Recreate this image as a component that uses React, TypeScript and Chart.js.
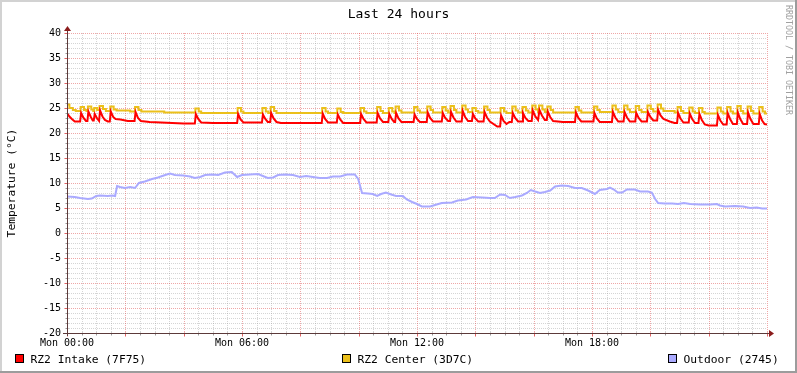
import React, { useEffect, useRef } from "react";
import { Chart, registerables } from "chart.js";
Chart.register(...registerables);

const FONT = "'DejaVu Sans Mono', monospace";
const chartTitle = "Last 24 hours";
const yAxisTitle = "Temperature (°C)";
const watermark = "RRDTOOL / TOBI OETIKER";
const seriesNames = ["RZ2 Intake (7F75)", "RZ2 Center (3D7C)", "Outdoor (2745)"];
const seriesColors = ["#FF0000", "#EBC01B", "#AAAAFF"];
const xTickMinutes = [0, 360, 720, 1080];
const xTickLabels = ["Mon 00:00", "Mon 06:00", "Mon 12:00", "Mon 18:00"];
const yMin = -20;
const yMax = 40;
const yStep = 5;

// [minute of day, °C]
const intake: [number, number][] = [
  [0, 24.0], [5, 23.3], [10, 22.8], [16, 22.3],
  [27, 22.3], [29, 24.0], [34, 23.0], [39, 22.4],
  [42, 22.4], [44, 24.3], [49, 23.2], [53, 22.5],
  [55, 22.5], [57, 23.8], [62, 22.9], [66, 22.4],
  [68, 24.5], [73, 23.3], [78, 22.6], [84, 22.3],
  [88, 22.3], [90, 24.3], [95, 23.2], [100, 22.8], [110, 22.7], [125, 22.4],
  [139, 22.4], [141, 24.2], [146, 23.0], [152, 22.4], [170, 22.2], [240, 21.9],
  [263, 21.9], [265, 23.8], [270, 22.8], [276, 22.1], [300, 22.0],
  [350, 22.0], [352, 23.8], [357, 22.7], [363, 22.1],
  [401, 22.1], [403, 23.7], [408, 22.8], [413, 22.2],
  [418, 22.2], [420, 24.0], [425, 22.9], [431, 22.2], [440, 22.0],
  [524, 22.0], [526, 23.9], [531, 22.8], [537, 22.1],
  [555, 22.1], [557, 23.7], [562, 22.7], [568, 22.0],
  [603, 22.0], [605, 23.8], [610, 22.8], [616, 22.1],
  [637, 22.1], [639, 24.0], [644, 22.9], [650, 22.2],
  [661, 22.2], [663, 23.8], [668, 22.8], [673, 22.2],
  [675, 22.2], [677, 24.0], [682, 22.9], [688, 22.2],
  [713, 22.2], [715, 23.7], [720, 22.8], [726, 22.2],
  [740, 22.2], [742, 24.1], [747, 23.0], [753, 22.3],
  [771, 22.3], [773, 24.0], [778, 23.0], [784, 22.4],
  [788, 22.4], [790, 24.2], [795, 23.1], [801, 22.3],
  [812, 22.3], [814, 24.4], [819, 23.2], [825, 22.4],
  [833, 22.4], [835, 23.8], [840, 22.9], [846, 22.3],
  [857, 22.3], [859, 24.2], [864, 23.1], [870, 22.3], [885, 21.3],
  [891, 21.3], [893, 23.5], [898, 22.4], [904, 21.8], [910, 22.2],
  [915, 22.2], [917, 24.0], [922, 23.0], [928, 22.3],
  [936, 22.3], [938, 24.0], [943, 23.0], [949, 22.4],
  [956, 22.4], [958, 24.5], [963, 23.4], [969, 22.6],
  [970, 22.6], [972, 24.6], [977, 23.5], [983, 22.6],
  [987, 22.6], [989, 24.3], [994, 23.2], [1000, 22.4], [1020, 22.2],
  [1045, 22.2], [1047, 24.1], [1052, 23.0], [1058, 22.3],
  [1083, 22.3], [1085, 24.0], [1090, 22.9], [1096, 22.2],
  [1121, 22.2], [1123, 24.2], [1128, 23.1], [1134, 22.3],
  [1145, 22.3], [1147, 24.2], [1152, 23.1], [1158, 22.3],
  [1169, 22.3], [1171, 24.0], [1176, 23.0], [1182, 22.3],
  [1193, 22.3], [1195, 24.2], [1200, 23.2], [1206, 22.5],
  [1214, 22.5], [1216, 24.6], [1221, 23.5], [1227, 22.8], [1240, 22.3], [1250, 22.0],
  [1255, 22.0], [1257, 24.0], [1262, 22.9], [1268, 22.1],
  [1279, 22.1], [1281, 23.9], [1286, 22.8], [1292, 22.0],
  [1299, 22.0], [1301, 23.8], [1306, 22.6], [1312, 21.7], [1320, 21.5],
  [1337, 21.5], [1339, 23.6], [1344, 22.5], [1350, 21.7],
  [1357, 21.7], [1359, 24.0], [1364, 22.8], [1370, 21.8],
  [1378, 21.8], [1380, 24.1], [1385, 22.8], [1391, 21.8],
  [1399, 21.8], [1401, 24.1], [1406, 22.8], [1412, 21.8],
  [1423, 21.8], [1425, 23.8], [1430, 22.5], [1435, 21.8], [1440, 21.7],
];

const center: [number, number][] = [
  [0, 25.7], [5, 25.0], [12, 24.6], [18, 24.4],
  [28, 25.2], [35, 24.6], [40, 24.4],
  [43, 25.3], [50, 24.7], [54, 24.4],
  [56, 25.0], [62, 24.6],
  [67, 25.4], [74, 24.8], [80, 24.4],
  [89, 25.3], [96, 24.7], [102, 24.5], [130, 24.3],
  [140, 25.2], [147, 24.6], [153, 24.3], [200, 24.1],
  [264, 24.9], [271, 24.3], [276, 24.0],
  [351, 25.0], [358, 24.3], [363, 24.0],
  [402, 25.0], [409, 24.3], [414, 24.0],
  [419, 25.2], [426, 24.4], [431, 24.0],
  [525, 25.0], [532, 24.3], [537, 24.0],
  [556, 24.9], [563, 24.2], [568, 24.0],
  [604, 25.0], [611, 24.3], [616, 24.0],
  [638, 25.2], [645, 24.4], [650, 24.0],
  [662, 25.0], [669, 24.3], [674, 24.0],
  [676, 25.3], [683, 24.5], [688, 24.1],
  [714, 25.2], [721, 24.5], [726, 24.1],
  [741, 25.3], [748, 24.6], [753, 24.1],
  [772, 25.2], [779, 24.5], [784, 24.1],
  [789, 25.4], [796, 24.6], [801, 24.1],
  [813, 25.5], [820, 24.7], [825, 24.2],
  [834, 25.0], [841, 24.4], [846, 24.1],
  [858, 25.3], [865, 24.6], [870, 24.1],
  [892, 25.0], [899, 24.3], [904, 24.0],
  [916, 25.3], [923, 24.5], [928, 24.1],
  [937, 25.2], [944, 24.5], [949, 24.1],
  [957, 25.5], [964, 24.7], [969, 24.2],
  [971, 25.5], [978, 24.7], [983, 24.2],
  [988, 25.3], [995, 24.6], [1000, 24.1],
  [1046, 25.2], [1053, 24.5], [1058, 24.1],
  [1084, 25.3], [1091, 24.6], [1096, 24.2],
  [1122, 25.5], [1129, 24.7], [1134, 24.2],
  [1146, 25.5], [1153, 24.7], [1158, 24.2],
  [1170, 25.4], [1177, 24.6], [1182, 24.2],
  [1194, 25.5], [1201, 24.8], [1206, 24.3],
  [1215, 25.7], [1222, 24.9], [1227, 24.4], [1250, 24.1],
  [1256, 25.2], [1263, 24.4], [1268, 24.0],
  [1280, 25.1], [1287, 24.3], [1292, 24.0],
  [1300, 25.0], [1307, 24.2], [1312, 23.9],
  [1338, 25.1], [1345, 24.3], [1350, 23.9],
  [1358, 25.2], [1365, 24.3], [1370, 23.9],
  [1379, 25.4], [1386, 24.4], [1391, 23.9],
  [1400, 25.3], [1407, 24.4], [1412, 23.9],
  [1424, 25.2], [1431, 24.3], [1436, 23.9], [1440, 23.9],
];

const outdoor: [number, number][] = [
  [0, 7.3], [16, 7.2], [27, 7.0], [43, 6.8], [51, 6.9], [60, 7.4], [68, 7.5],
  [84, 7.4], [93, 7.5], [99, 7.4], [103, 9.4], [109, 9.2], [119, 9.0], [130, 9.2],
  [140, 9.0], [148, 10.0], [160, 10.3], [175, 10.8], [187, 11.1], [202, 11.6],
  [212, 11.9], [222, 11.6], [239, 11.5], [253, 11.3], [263, 11.0], [274, 11.2],
  [284, 11.6], [298, 11.7], [311, 11.6], [325, 12.1], [339, 12.2], [350, 11.2],
  [360, 11.6], [376, 11.7], [393, 11.8], [403, 11.4], [413, 11.0], [424, 11.1],
  [434, 11.6], [448, 11.7], [465, 11.6], [479, 11.2], [492, 11.4], [506, 11.2],
  [520, 11.0], [535, 11.0], [547, 11.3], [562, 11.3], [576, 11.7], [592, 11.7],
  [599, 10.8], [607, 8.0], [619, 7.9], [629, 7.8], [638, 7.4], [646, 7.8],
  [656, 8.1], [667, 7.7], [677, 7.4], [691, 7.4], [699, 6.7], [710, 6.2],
  [720, 5.8], [730, 5.3], [747, 5.3], [757, 5.6], [771, 6.0], [792, 6.1],
  [804, 6.5], [821, 6.7], [835, 7.2], [854, 7.1], [870, 7.0], [880, 7.0],
  [891, 7.7], [901, 7.6], [911, 7.0], [922, 7.2], [936, 7.5], [946, 8.0],
  [954, 8.6], [963, 8.3], [973, 8.0], [983, 8.2], [994, 8.5], [1004, 9.3],
  [1018, 9.5], [1031, 9.4], [1045, 9.0], [1059, 9.0], [1072, 8.5], [1086, 7.8],
  [1096, 8.6], [1111, 8.8], [1117, 9.1], [1125, 8.7], [1133, 8.1], [1142, 8.1],
  [1152, 8.7], [1168, 8.7], [1179, 8.3], [1195, 8.3], [1203, 8.1], [1210, 6.8],
  [1216, 6.0], [1230, 5.9], [1245, 5.9], [1257, 5.8], [1269, 6.0], [1282, 5.8],
  [1302, 5.7], [1323, 5.7], [1337, 5.8], [1343, 5.5], [1354, 5.3], [1374, 5.4],
  [1391, 5.3], [1405, 5.0], [1419, 5.1], [1430, 4.9], [1440, 4.9],
];

const GRID_MINOR = "rgba(150,150,150,0.4)";
const GRID_MAJOR = "rgba(220,60,60,0.45)";
const AXIS = "#5c3a3a";
const ARROW = "#8b1c1c";

const rrdPlugin = {
  id: "rrd",
  beforeDraw(chart: any) {
    const { ctx, width, height } = chart;
    ctx.save();
    ctx.fillStyle = "#ffffff";
    ctx.fillRect(0, 0, width, height);
    ctx.fillStyle = "#d2d2d2";
    ctx.fillRect(0, 0, width, 2);
    ctx.fillRect(0, 0, 2, height);
    ctx.fillStyle = "#9c9c9c";
    ctx.fillRect(0, height - 2, width, 2);
    ctx.fillRect(width - 2, 0, 2, height);
    ctx.restore();
  },
  beforeDatasetsDraw(chart: any) {
    const { ctx, chartArea: a } = chart;
    const xs = chart.scales.x;
    const ys = chart.scales.y;
    ctx.save();
    ctx.lineWidth = 1;
    ctx.setLineDash([1, 1]);
    const pass = (major: boolean) => {
      ctx.strokeStyle = major ? GRID_MAJOR : GRID_MINOR;
      ctx.beginPath();
      for (let m = xs.min + 30; m <= xs.max; m += 30) {
        if ((m % 120 === 0) !== major) continue;
        const px = Math.round(xs.getPixelForValue(m)) + 0.5;
        ctx.moveTo(px, a.top);
        ctx.lineTo(px, a.bottom);
      }
      for (let v = ys.min + 1; v <= ys.max; v += 1) {
        if ((v % 5 === 0) !== major) continue;
        const py = Math.round(ys.getPixelForValue(v)) + 0.5;
        ctx.moveTo(a.left, py);
        ctx.lineTo(a.right, py);
      }
      ctx.stroke();
    };
    pass(false);
    pass(true);
    ctx.restore();
  },
  afterDatasetsDraw(chart: any) {
    const { ctx, chartArea: a } = chart;
    const xs = chart.scales.x;
    const ys = chart.scales.y;
    const bx = Math.round(a.left) + 0.5;
    const by = Math.round(a.bottom) + 0.5;
    ctx.save();
    ctx.setLineDash([]);
    ctx.lineWidth = 1;
    for (let m = xs.min; m <= xs.max; m += 30) {
      const px = Math.round(xs.getPixelForValue(m)) + 0.5;
      const major = m % 120 === 0;
      ctx.strokeStyle = major ? "rgba(220,60,60,0.8)" : "rgba(130,130,130,0.8)";
      ctx.beginPath();
      ctx.moveTo(px, by - 1);
      ctx.lineTo(px, by + (major ? 3 : 2));
      ctx.stroke();
    }
    for (let v = ys.min; v <= ys.max; v += 1) {
      const py = Math.round(ys.getPixelForValue(v)) + 0.5;
      const major = v % 5 === 0;
      ctx.strokeStyle = major ? "rgba(220,60,60,0.8)" : "rgba(130,130,130,0.8)";
      ctx.beginPath();
      ctx.moveTo(bx - (major ? 3 : 2), py);
      ctx.lineTo(bx + 1, py);
      ctx.stroke();
    }
    ctx.strokeStyle = AXIS;
    ctx.beginPath();
    ctx.moveTo(a.left - 4, by);
    ctx.lineTo(a.right + 4, by);
    ctx.moveTo(bx, a.bottom + 3);
    ctx.lineTo(bx, a.top - 4);
    ctx.stroke();
    ctx.fillStyle = ARROW;
    ctx.beginPath();
    ctx.moveTo(a.right + 7, by);
    ctx.lineTo(a.right + 2, by - 3.5);
    ctx.lineTo(a.right + 2, by + 3.5);
    ctx.closePath();
    ctx.fill();
    ctx.beginPath();
    ctx.moveTo(bx, a.top - 7);
    ctx.lineTo(bx - 3.5, a.top - 2);
    ctx.lineTo(bx + 3.5, a.top - 2);
    ctx.closePath();
    ctx.fill();
    ctx.restore();
  },
  afterDraw(chart: any) {
    const { ctx, chartArea: a, width } = chart;
    ctx.save();
    ctx.fillStyle = "#000";
    ctx.textAlign = "center";
    ctx.textBaseline = "alphabetic";
    ctx.font = `13px ${FONT}`;
    ctx.fillText(chartTitle, width / 2, 18);

    ctx.save();
    ctx.font = `11.3px ${FONT}`;
    ctx.translate(12, (a.top + a.bottom) / 2);
    ctx.rotate(-Math.PI / 2);
    ctx.textBaseline = "middle";
    ctx.fillText(yAxisTitle, 0, 0);
    ctx.restore();

    ctx.save();
    ctx.font = `8.3px ${FONT}`;
    ctx.fillStyle = "#a0a0a0";
    ctx.translate(788.5, 60);
    ctx.rotate(Math.PI / 2);
    ctx.textBaseline = "middle";
    ctx.fillText(watermark, 0, 0);
    ctx.restore();

    const boxX = [15, 342, 668];
    ctx.font = `11.3px ${FONT}`;
    ctx.textAlign = "left";
    seriesNames.forEach((name, i) => {
      ctx.fillStyle = seriesColors[i];
      ctx.fillRect(boxX[i], 354, 9, 9);
      ctx.strokeStyle = "#000";
      ctx.lineWidth = 1;
      ctx.strokeRect(boxX[i] + 0.5, 354.5, 8, 8);
      ctx.fillStyle = "#000";
      ctx.fillText(name, boxX[i] + 15.5, 363);
    });
    ctx.restore();
  },
};

const toXY = (pts: [number, number][]) => pts.map(([x, y]) => ({ x, y }));

export default function App() {
  const ref = useRef<HTMLCanvasElement | null>(null);
  useEffect(() => {
    document.body.style.margin = "0";
    const canvas = ref.current!;
    const chart = new Chart(canvas, {
      type: "line",
      data: {
        datasets: [
          { label: seriesNames[0], data: toXY(intake), borderColor: seriesColors[0], stepped: false },
          { label: seriesNames[1], data: toXY(center), borderColor: seriesColors[1], stepped: "before" },
          { label: seriesNames[2], data: toXY(outdoor), borderColor: seriesColors[2], stepped: false },
        ].map((d) => ({
          ...d,
          borderWidth: 2,
          pointRadius: 0,
          fill: false,
          tension: 0,
          borderJoinStyle: "miter",
          borderCapStyle: "butt",
        })) as any,
      },
      options: {
        animation: false,
        responsive: false,
        events: [],
        layout: { padding: { left: 0, right: 30, top: 33, bottom: 0 } },
        plugins: { legend: { display: false }, tooltip: { enabled: false }, title: { display: false } },
        scales: {
          x: {
            type: "linear",
            min: 0,
            max: 1440,
            grid: { display: false, drawTicks: false },
            border: { display: false },
            afterBuildTicks: (s: any) => {
              s.ticks = xTickMinutes.map((v) => ({ value: v }));
            },
            afterFit: (s: any) => {
              s.height = 40;
            },
            ticks: {
              autoSkip: false,
              maxRotation: 0,
              padding: 4,
              color: "#000",
              font: { family: FONT, size: 10 },
              callback: (v: any) => {
                const i = xTickMinutes.indexOf(Number(v));
                return i >= 0 ? xTickLabels[i] : "";
              },
            },
          },
          y: {
            min: yMin,
            max: yMax,
            grid: { display: false, drawTicks: false },
            border: { display: false },
            afterFit: (s: any) => {
              s.width = 67;
            },
            ticks: {
              stepSize: yStep,
              padding: 6,
              color: "#000",
              font: { family: FONT, size: 10 },
            },
          },
        },
      },
      plugins: [rrdPlugin],
    } as any);
    return () => chart.destroy();
  }, []);
  return (
    <canvas
      ref={ref}
      width={797}
      height={373}
      style={{ display: "block", width: 797, height: 373 }}
    />
  );
}
